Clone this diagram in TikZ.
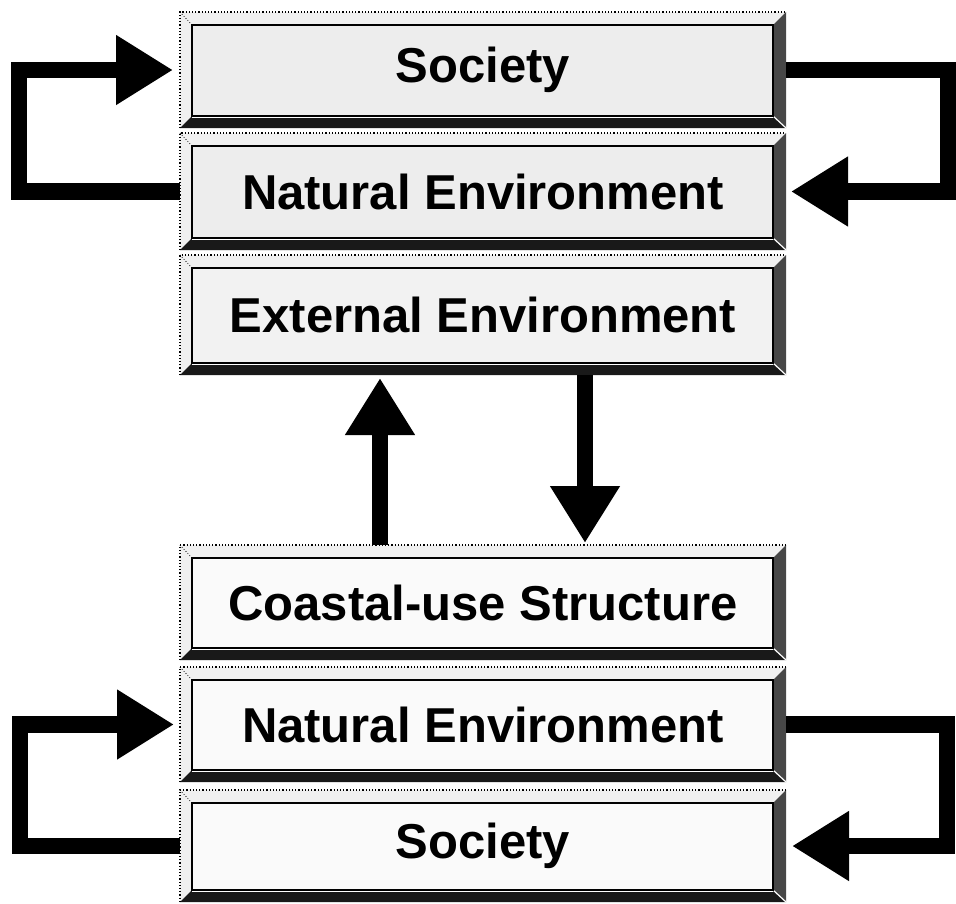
\documentclass[tikz,border=0pt]{standalone}
\usepackage{fontspec}
\setmainfont{Liberation Sans}
\usetikzlibrary{arrows.meta,calc}
\tikzset{
  frame/.style={rectangle, minimum width=606pt, inner sep=0pt, outer sep=0pt,
    font=\fontsize{49}{55}\selectfont\bfseries},
  bigarrow/.style={line width=16.5pt, line join=miter, draw=black,
    -{Triangle[length=57pt,width=66pt]}},
  lightbevel/.style={fill=gray!12},
  darkbevel/.style={fill=black!90},
  sidebevel/.style={fill=black!72},
  innerbox/.style={draw=black, line width=1.6pt},
}
% #1 name, #2 top y, #3 bottom y, #4 text, #5 inner fill
\newcommand\bevelbox[5]{%
  \fill[lightbevel] (180,#2) -- (786,#2) -- (773,{#2+13}) -- (192,{#2+13})
     -- (192,{#3-12}) -- (180,#3) -- cycle;
  \fill[darkbevel] (180,#3) -- (192,{#3-12}) -- (773,{#3-12}) -- (786,#3) -- cycle;
  \fill[sidebevel] (786,#2) -- (786,#3) -- (773,{#3-12}) -- (773,{#2+13}) -- cycle;
  \draw[white, line width=1.2pt] (773,{#3-12}) -- (786,#3);
  \draw[white, line width=1.2pt] (192,{#3-10.5}) -- (773,{#3-10.5});
  \draw[dotted, line width=1.2pt] (180,#3) -- (180,#2) -- (786,#2);
  \draw[dotted, line width=0.8pt] (180,#2) -- (192,{#2+13});
  \draw[innerbox, fill=#5] (192,{#2+13}) rectangle (773,{#3-12});
  \node[frame, minimum height={(#3-#2)*1pt}] (#1) at (483,{(#2+#3)/2}) {#4};
}
\begin{document}
\begin{tikzpicture}[x=1pt,y=-1pt]
  \useasboundingbox (0,0) rectangle (956,903);
  % top group
  \bevelbox{T1}{12}{128}{Society}{gray!14}
  \bevelbox{T2}{133}{250}{Natural Environment}{gray!14}
  \bevelbox{T3}{255}{375}{External Environment}{gray!10}
  % bottom group
  \bevelbox{B1}{545}{660}{Coastal-use Structure}{gray!4}
  \bevelbox{B2}{667}{782}{Natural Environment}{gray!4}
  \bevelbox{B3}{790}{902}{Society}{gray!4}
  % feedback loops, top group
  \draw[bigarrow, shorten >=7pt] (T2.west) -- ++(-161,0) |- (T1.west);
  \draw[bigarrow, shorten >=5pt] (T1.east) -- ++(162,0) |- (T2.east);
  % between the groups
  \draw[bigarrow, shorten >=3pt] ([xshift=-103pt]B1.north) -- ([xshift=-103pt]T3.south);
  \draw[bigarrow, shorten >=2pt] ([xshift=102pt]T3.south) -- ([xshift=102pt]B1.north);
  % feedback loops, bottom group
  \draw[bigarrow, shorten >=6pt] (B3.west) -- ++(-160,0) |- (B2.west);
  \draw[bigarrow, shorten >=6pt] (B2.east) -- ++(161,0) |- (B3.east);
\end{tikzpicture}
\end{document}
